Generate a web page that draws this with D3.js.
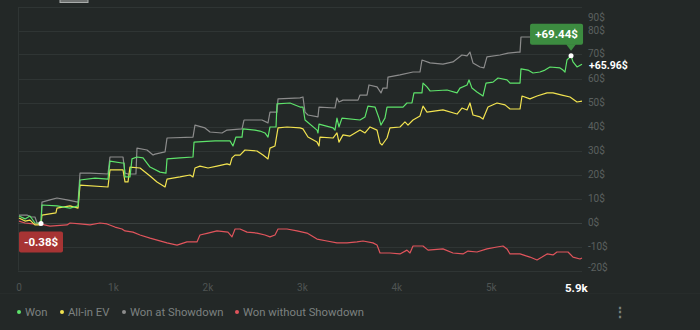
<!DOCTYPE html>
<html><head><meta charset="utf-8">
<script src="https://cdn.jsdelivr.net/npm/d3@7"></script>
<style>
html,body{margin:0;padding:0;background:#232827;}
svg{display:block;font-family:Roboto,"Noto Sans",sans-serif;}
</style></head>
<body><svg id="c" width="700" height="330"></svg>
<script>
// Data: hands played vs cumulative $ won
const wonHands = [0,64,116,169,233,243,402,540,625,646,805,942,963,1090,1112,1122,1175,1196,1249,1313,1387,1493,1556,1567,1704,1842,1853,2075,2234,2265,2297,2361,2371,2498,2551,2604,2636,2657,2721,2731,2869,2975,3006,3028,3155,3165,3176,3324,3345,3366,3387,3419,3610,3663,3694,3769,3811,3832,3874,3896,4065,4107,4160,4181,4266,4277,4319,4351,4531,4637,4668,4743,4764,4795,4848,4912,4944,5018,5071,5166,5198,5304,5314,5388,5441,5515,5568,5621,5727,5759,5780,5801,5844,5865,5907,5960];
const wonValues = [2.7,1.5,2.7,-0.2,-0.38,7.3,6.9,6.0,6.9,17.7,18.5,18.1,25.6,24.8,24.8,19.0,19.0,26.5,27.3,26.9,23.1,21.0,20.6,26.5,26.9,27.3,33.5,34.0,34.0,31.9,35.6,35.6,39.0,38.5,38.1,37.3,35.6,39.8,39.8,49.4,49.8,48.1,48.1,42.7,38.5,37.3,41.0,39.4,38.5,43.5,39.8,43.5,42.7,44.0,48.5,48.1,43.5,40.6,43.5,48.1,48.1,49.8,49.8,54.0,54.0,58.1,56.5,54.8,55.2,54.0,56.0,57.3,59.4,56.0,54.4,52.7,58.1,58.5,60.2,59.4,58.1,58.1,64.0,63.5,62.3,62.7,63.5,64.8,64.4,63.5,62.7,67.7,69.44,66.9,64.8,65.96];

const evHands = [0,64,116,169,233,243,391,402,540,625,646,942,963,1101,1122,1154,1175,1281,1387,1461,1546,1567,1704,1810,1842,1863,1916,2001,2096,2202,2234,2255,2287,2340,2392,2519,2583,2636,2657,2710,2742,2837,2975,3006,3059,3155,3176,3186,3324,3366,3387,3430,3504,3610,3663,3716,3790,3822,3843,3896,3927,4033,4086,4118,4171,4245,4277,4319,4488,4637,4689,4743,4774,4806,4880,4912,4965,5060,5145,5198,5304,5325,5409,5484,5590,5653,5748,5833,5907,5960];
const evValues = [1.9,0.6,1.0,-1.0,-1.0,3.1,4.0,6.0,6.9,6.0,15.6,14.8,21.9,21.9,16.9,16.9,23.1,22.7,19.4,16.9,14.8,18.1,19.0,19.8,19.0,22.7,23.5,22.7,23.5,24.4,24.0,26.9,28.1,28.1,30.2,29.8,28.1,26.5,31.0,31.9,39.4,39.8,39.4,39.0,35.6,33.5,31.9,35.6,35.2,37.3,33.5,36.5,36.0,38.5,37.3,39.8,38.5,33.1,32.3,35.2,39.4,39.8,41.9,40.6,42.7,44.4,48.5,46.0,46.9,45.2,47.7,46.9,49.8,44.8,44.0,43.1,48.1,49.8,49.0,47.3,47.3,52.7,51.5,52.7,54.0,54.0,53.1,52.3,50.2,50.6];

const sdHands = [0,85,127,169,191,233,243,328,402,508,625,646,752,942,963,1101,1122,1154,1238,1249,1355,1419,1440,1546,1567,1842,1863,1969,2022,2149,2202,2361,2382,2572,2636,2657,2731,2742,2975,3006,3028,3059,3165,3176,3345,3366,3387,3430,3589,3610,3684,3705,3790,3832,3853,3896,3906,4033,4171,4245,4266,4351,4488,4594,4689,4743,4774,4806,4880,4922,4954,5092,5177,5282,5304,5314,5409,5568,5727,5960];
const sdValues = [3.1,3.1,2.3,2.3,-0.2,-0.2,8.5,9.4,10.2,9.4,8.5,20.6,20.6,20.2,27.3,27.3,20.6,20.2,20.2,31.0,30.2,28.1,28.5,29.4,35.2,35.6,40.6,39.4,37.7,37.3,38.5,39.0,42.7,42.7,41.5,46.0,46.0,51.5,51.9,52.3,46.0,44.8,44.0,48.1,47.7,51.9,50.2,51.0,51.0,53.1,53.1,57.3,56.5,54.0,56.0,56.0,60.6,61.5,62.7,62.7,67.7,66.5,66.0,66.9,69.8,69.4,71.0,66.5,64.8,64.4,69.0,69.8,70.6,71.0,71.0,77.3,77.3,77.7,77.3,76.9];

const nsdHands = [0,64,148,222,328,508,540,646,752,857,932,1016,1090,1122,1207,1281,1387,1567,1673,1778,1884,1916,2001,2096,2212,2255,2287,2340,2414,2519,2604,2657,2710,2742,2837,2943,3049,3155,3260,3366,3472,3578,3642,3747,3790,3822,3927,4033,4107,4139,4171,4277,4330,4488,4594,4700,4753,4848,4954,5060,5124,5166,5198,5304,5409,5484,5537,5590,5653,5695,5812,5865,5939,5960];
const nsdValues = [0.6,-0.2,-0.6,-0.6,-1.5,-1.0,-0.2,-0.6,-1.0,-0.2,-0.6,-1.9,-2.7,-3.5,-4.0,-5.2,-6.5,-8.5,-9.4,-8.1,-8.1,-5.2,-4.4,-3.5,-4.0,-6.0,-2.7,-2.7,-4.0,-4.4,-5.2,-6.0,-5.2,-2.7,-2.7,-3.5,-4.4,-6.9,-7.7,-8.5,-8.5,-8.1,-7.7,-8.5,-9.4,-12.7,-12.7,-13.1,-11.5,-12.7,-9.8,-9.8,-11.5,-11.0,-12.7,-13.1,-11.9,-12.3,-11.0,-10.2,-9.8,-11.0,-13.1,-13.1,-14.4,-15.6,-14.4,-13.1,-13.5,-12.3,-12.3,-14.4,-15.2,-14.8];

const seriesNames = ["Won","All-in EV","Won at Showdown","Won without Showdown"];
const seriesColors = ["#5ee36b","#f2e350","#8c8c8c","#e0545c"];
const yTicks = [-20,-10,0,10,20,30,40,50,60,70,80,90];
const xTicks = [0,1000,2000,3000,4000,5000];
const xTickLabels = ["0","1k","2k","3k","4k","5k"];
const totalHands = 5960;
const lastLabel = "5.9k";

const svg = d3.select("#c");
const x = d3.scaleLinear().domain([0, totalHands]).range([19, 582]);
const y = d3.scaleLinear().domain([-20, 90]).range([270.5, 6.5]);

// top stub
svg.append("rect").attr("x",60).attr("y",-5).attr("width",28).attr("height",7.5)
  .attr("fill","#6f7271").attr("stroke","#a9acab").attr("stroke-width",1);

// left border
svg.append("line").attr("x1",18.5).attr("x2",18.5).attr("y1",8).attr("y2",270.5)
  .attr("stroke","#2f3534");

// grid
svg.append("g").selectAll("line").data(yTicks).join("line")
  .attr("x1",18).attr("x2",582)
  .attr("y1",d=>Math.round(y(d))+0.5).attr("y2",d=>Math.round(y(d))+0.5)
  .attr("stroke",d=>d===0?"#3a403f":"#2f3534").attr("stroke-width",1);

// faint separator under x labels
svg.append("line").attr("x1",0).attr("x2",700).attr("y1",293.5).attr("y2",293.5)
  .attr("stroke","#272c2b");

// y labels
svg.append("g").selectAll("text").data(yTicks).join("text")
  .attr("x",588).attr("y",d=>Math.min(267,Math.max(17,d===70?y(d)-1.5:y(d))))
  .attr("dy","0.35em").attr("fill","#5b605f").attr("font-size",10)
  .text(d=>d+"$");

// x labels
svg.append("g").selectAll("text").data(xTicks).join("text")
  .attr("x",d=>x(d)).attr("y",291).attr("text-anchor","middle")
  .attr("fill","#4f5453").attr("font-size",10)
  .text((d,i)=>xTickLabels[i]);
svg.append("text").attr("x",x(5900)).attr("y",292).attr("text-anchor","middle")
  .attr("fill","#ffffff").attr("font-size",11.5).attr("font-weight","bold").text(lastLabel);

// lines
const line = d3.line().x(d=>x(d[0])).y(d=>y(d[1])).curve(d3.curveLinear);
const zip = (h,v)=>h.map((d,i)=>[d,v[i]]);
const all = [zip(sdHands,sdValues), zip(nsdHands,nsdValues), zip(evHands,evValues), zip(wonHands,wonValues)];
const cols = [seriesColors[2], seriesColors[3], seriesColors[1], seriesColors[0]];
all.forEach((s,i)=>{
  svg.append("path").datum(s).attr("d",line).attr("fill","none")
    .attr("stroke",cols[i]).attr("stroke-width",1.2).attr("stroke-linejoin","round");
});

// max / min markers of Won
const wonPts = zip(wonHands,wonValues);
const maxPt = wonPts.reduce((a,b)=>b[1]>a[1]?b:a);
const minPt = wonPts.reduce((a,b)=>b[1]<a[1]?b:a);
const lastPt = wonPts[wonPts.length-1];

// green max label
const mx = x(maxPt[0]), my = y(maxPt[1]);
const gl = svg.append("g");
gl.append("rect").attr("x",mx-41).attr("y",my-32).attr("width",53).attr("height",21).attr("rx",2).attr("fill","#3c8c40");
gl.append("path").attr("d",`M${mx-5},${my-11.5}L${mx},${my-5}L${mx+5},${my-11.5}Z`).attr("fill","#3c8c40");
gl.append("text").attr("x",mx-14.5).attr("y",my-21.5).attr("dy","0.35em").attr("text-anchor","middle")
  .attr("fill","#ffffff").attr("font-size",11.5).attr("font-weight","bold").text("+"+maxPt[1].toFixed(2)+"$");
svg.append("circle").attr("cx",mx).attr("cy",my).attr("r",2.5).attr("fill","#ffffff");

// red min label
const nx = x(minPt[0]), ny = y(minPt[1]);
svg.append("rect").attr("x",nx-22).attr("y",ny+8).attr("width",44).attr("height",21).attr("rx",2).attr("fill","#a73434");
svg.append("text").attr("x",nx).attr("y",ny+18.5).attr("dy","0.35em").attr("text-anchor","middle")
  .attr("fill","#ffffff").attr("font-size",11.5).attr("font-weight","bold").text(minPt[1].toFixed(2)+"$");
svg.append("circle").attr("cx",nx).attr("cy",ny).attr("r",2.5).attr("fill","#ffffff");

// last value label
svg.append("text").attr("x",589).attr("y",y(lastPt[1])+1).attr("dy","0.35em")
  .attr("fill","#ffffff").attr("font-size",10.5).attr("font-weight","bold").text("+"+lastPt[1].toFixed(2)+"$");

// legend
const legX = [19,62,124,237];
const lg = svg.append("g").selectAll("g").data(seriesNames).join("g")
  .attr("transform",(d,i)=>`translate(${legX[i]},312)`);
lg.append("circle").attr("r",2).attr("fill",(d,i)=>seriesColors[i]);
lg.append("text").attr("x",6).attr("dy","0.35em").attr("fill","#7c8180").attr("font-size",11.3).text(d=>d);

svg.append("text").attr("x",620).attr("y",312).attr("dy","0.35em").attr("text-anchor","middle")
  .attr("fill","#7c8180").attr("font-size",14).attr("font-weight","bold").text("⋮");
</script></body></html>
